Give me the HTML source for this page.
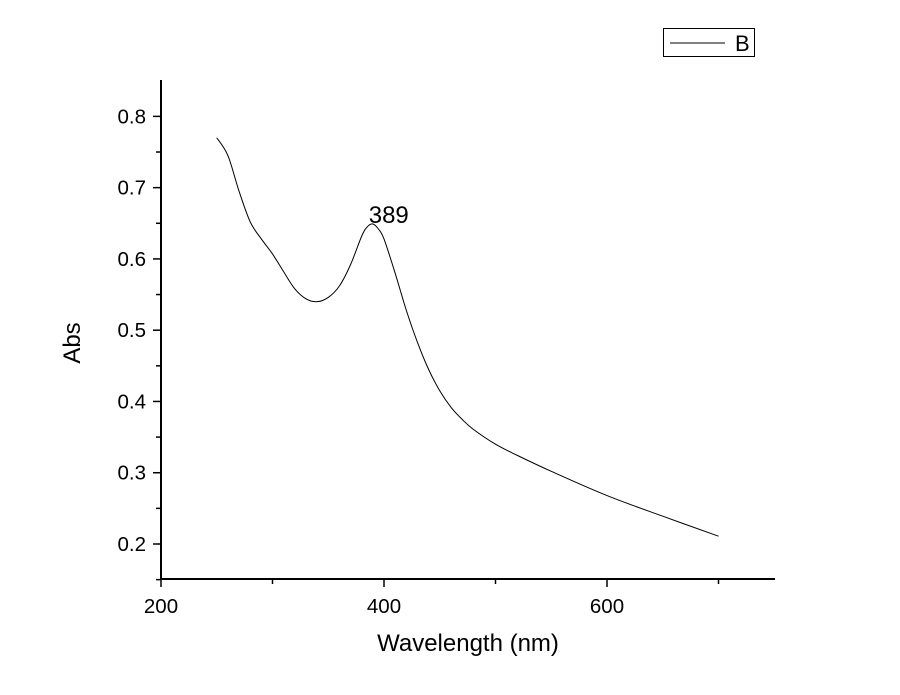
<!DOCTYPE html>
<html><head><meta charset="utf-8"><style>
body{margin:0;background:#fff}
svg{display:block;font-family:"Liberation Sans",Arial,sans-serif}
</style></head><body>
<svg width="900" height="695" viewBox="0 0 900 695">
<g id="axes"></g>
<g id="plot"></g>
<g>
<rect x="663.5" y="28.5" width="91" height="28" fill="#fff" stroke="#000" stroke-width="1"/>
<line x1="670" y1="43" x2="725" y2="43" stroke="#000" stroke-width="1"/>
<text x="735" y="51" font-size="22">B</text>
</g>
<text x="468" y="651" font-size="24" text-anchor="middle">Wavelength (nm)</text>
<text transform="translate(80,343) rotate(-90)" font-size="24" text-anchor="middle">Abs</text>
</svg>
<script>
const wavelengths=[250,260,270,280,290,300,310,320,330,340,350,360,370,380,385,390,395,400,410,420,430,440,450,460,470,480,500,520,550,600,650,700];
const absValues=[0.77,0.745,0.695,0.652,0.628,0.607,0.582,0.558,0.544,0.540,0.546,0.562,0.592,0.632,0.645,0.649,0.642,0.628,0.58,0.528,0.483,0.445,0.415,0.392,0.375,0.361,0.340,0.324,0.302,0.268,0.239,0.211];
const xTicks=[200,400,600];
const yTicks=[0.2,0.3,0.4,0.5,0.6,0.7,0.8];
const peakLabel="389";
const peakX=389, peakY=0.649;
const NS="http://www.w3.org/2000/svg";
const x0=161,yB=579,xR=775,yT=80;
const sx=v=>161+(v-200)*1.115;
const sy=v=>544-(v-0.2)*712.7;
function mk(t,a,p){const e=document.createElementNS(NS,t);for(const k in a)e.setAttribute(k,a[k]);p.appendChild(e);return e;}
const axes=document.getElementById('axes'),plot=document.getElementById('plot');
let e=mk('path',{d:`M${x0},${yT}V${yB}H${xR}`,fill:'none',stroke:'#000','stroke-width':2},axes);


for(let v=200;v<=740;v+=100){const maj=xTicks.includes(v);
 e=mk('line',{x1:sx(v),x2:sx(v),y1:yB,y2:yB+(maj?8:5),stroke:'#000','stroke-width':1.5},axes);
 
 }
xTicks.forEach(v=>{e=mk('text',{x:sx(v),y:613,'font-size':20.5,'text-anchor':'middle'},axes);e.textContent=v;
 
 });
for(let i=0;i<=13;i++){const v=0.15+i*0.05;const maj=Math.abs((v*10)-Math.round(v*10))<1e-6;
 e=mk('line',{x1:x0,x2:x0-(maj?8:5),y1:sy(v),y2:sy(v),stroke:'#000','stroke-width':1.5},axes);
 
 }
yTicks.forEach(v=>{e=mk('text',{x:146,y:sy(v)+7,'font-size':20.5,'text-anchor':'end'},axes);e.textContent=v.toFixed(1);
 
 });
const pts=wavelengths.map((w,i)=>[sx(w),sy(absValues[i])]);
let d=`M${pts[0][0]},${pts[0][1]}`;
for(let i=0;i<pts.length-1;i++){const p0=pts[i-1]||pts[i],p1=pts[i],p2=pts[i+1],p3=pts[i+2]||p2;
 d+=` C${p1[0]+(p2[0]-p0[0])/6},${p1[1]+(p2[1]-p0[1])/6} ${p2[0]-(p3[0]-p1[0])/6},${p2[1]-(p3[1]-p1[1])/6} ${p2[0]},${p2[1]}`;}
e=mk('path',{d,fill:'none',stroke:'#000','stroke-width':1},plot);


e=mk('text',{x:sx(peakX)-3,y:sy(peakY)-1,'font-size':24},plot);e.textContent=peakLabel;


</script>
</body></html>
